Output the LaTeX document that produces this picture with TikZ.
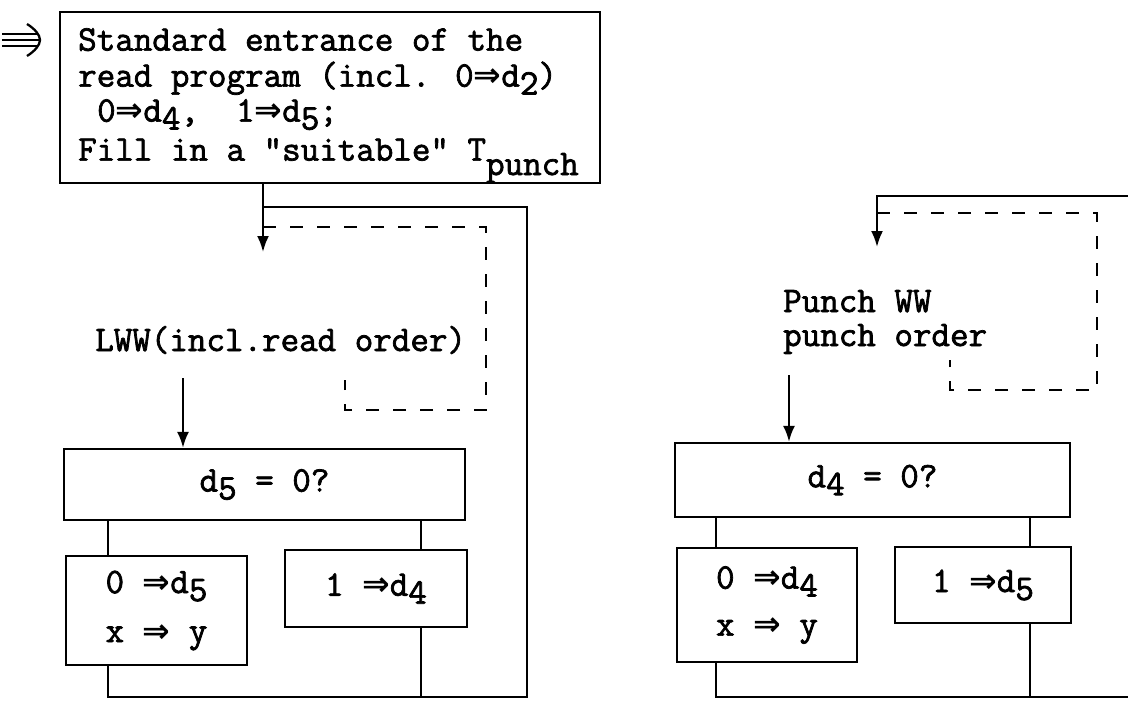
\documentclass[tikz,border=0pt]{standalone}
\usepackage{fontspec}
\usetikzlibrary{arrows.meta}
\newfontfamily\tw{Latin Modern Mono}[FakeBold=2]
\newfontfamily\dv{DejaVu Sans}
\newcommand{\tws}{\tw\fontsize{36}{34}\selectfont}
\newcommand{\dbl}{{\dv\bfseries\fontsize{33}{33}\selectfont ⇒}}
\newcommand{\lo}[1]{\raisebox{-0.22em}{#1}}
\tikzset{
  ln/.style={line width=2.3pt},
  box/.style={draw, line width=2.3pt, inner sep=0pt, font=\tws},
  dsh/.style={line width=2.3pt, dash pattern=on 13pt off 14pt},
  arr/.style={-{Latex[length=16pt,width=12pt]}},
  lbl/.style={font=\tws, align=left, inner sep=0pt},
}
\begin{document}
\begin{tikzpicture}[x=1pt,y=-1pt]
\useasboundingbox (0,0) rectangle (1128,702);
% entry mark (triple arrow)
\coordinate (ent) at (40,40);
\draw[ln] (2,34) -- (37,34) (2,40) -- (ent) (2,46) -- (37,46);
\draw[ln] (27,24) .. controls (35,29) and (40,35) .. (ent) .. controls (40,45) and (35,51) .. (27,56);
% top box
\node[box, minimum width=540pt, minimum height=171pt] (top) at (330,97.5) {};
\node[lbl, anchor=north west] (toptxt) at (78,28)
  {Standard entrance of the\\[2pt]
   read program (incl. 0\dbl d\lo{2})\\[1pt]
   \hspace*{19pt}0\dbl d\lo{4},\ \ 1\dbl d\lo{5};\\[5pt]
   Fill in a "suitable" T\raisebox{-0.4em}{punch}};
% ---------- left part ----------
\node[lbl, anchor=west] (lww) at (95,340) {LWW(incl.read order)};
\node[box, minimum width=401pt, minimum height=71pt] (q1) at (264.5,484.5) {\raisebox{-8pt}{d\lo{5} = 0?}};
\node[box, minimum width=181pt, minimum height=109pt, align=left] (L1) at (156.5,610.5)
  {0 \dbl d\lo{5}\\[15pt] x \dbl\ y};
\node[box, minimum width=182pt, minimum height=77pt] (R1) at (376,588.5) {1 \dbl d\lo{4}};
\coordinate (e1) at (263,252);
\coordinate (j1) at (263,207);
\coordinate (k1) at (527,697);
\coordinate (m1) at (263,227);
\coordinate (n1) at (486,410);
\coordinate (s1) at (345,380);
\coordinate (u1) at (183,378);
\coordinate (xl) at (108,0);
\coordinate (xr) at (421,0);
\draw[ln,arr] (top.south -| e1) -- (e1);
\draw[dsh] (m1) -| (n1) -| (s1);
\draw[ln,arr] (u1) -- (u1 |- q1.north);
\draw[ln] (q1.south -| xl) -- (L1.north -| xl);
\draw[ln] (q1.south -| xr) -- (R1.north -| xr);
\draw[ln] (L1.south -| xl) -- (xl |- k1) -- (k1) -- (k1 |- j1) -- (j1);
\draw[ln] (R1.south -| xr) -- (xr |- k1);
% ---------- right part ----------
\node[lbl, anchor=west] (pww) at (783,322) {Punch WW\\punch order};
\node[box, minimum width=395pt, minimum height=74pt] (q2) at (872.5,480) {\raisebox{-8pt}{d\lo{4} = 0?}};
\node[box, minimum width=180pt, minimum height=114pt, align=left] (L2) at (767,605)
  {0 \dbl d\lo{4}\\[13pt] x \dbl\ y};
\node[box, minimum width=176pt, minimum height=76pt] (R2) at (983,585) {1 \dbl d\lo{5}};
\coordinate (e2) at (877,247);
\coordinate (j2) at (1128,196);
\coordinate (m2) at (877,213);
\coordinate (n2) at (1097,390);
\coordinate (s2) at (950,360);
\coordinate (u2) at (789,375);
\coordinate (xl2) at (716,0);
\coordinate (xr2) at (1030,0);
\coordinate (k2) at (1128,697);
\draw[ln,arr] (j2) -| (e2);
\draw[dsh] (m2) -| (n2) -| (s2);
\draw[ln,arr] (u2) -- (u2 |- q2.north);
\draw[ln] (q2.south -| xl2) -- (L2.north -| xl2);
\draw[ln] (q2.south -| xr2) -- (R2.north -| xr2);
\draw[ln] (L2.south -| xl2) -- (xl2 |- k2) -- (k2);
\draw[ln] (R2.south -| xr2) -- (xr2 |- k2);
\end{tikzpicture}
\end{document}
